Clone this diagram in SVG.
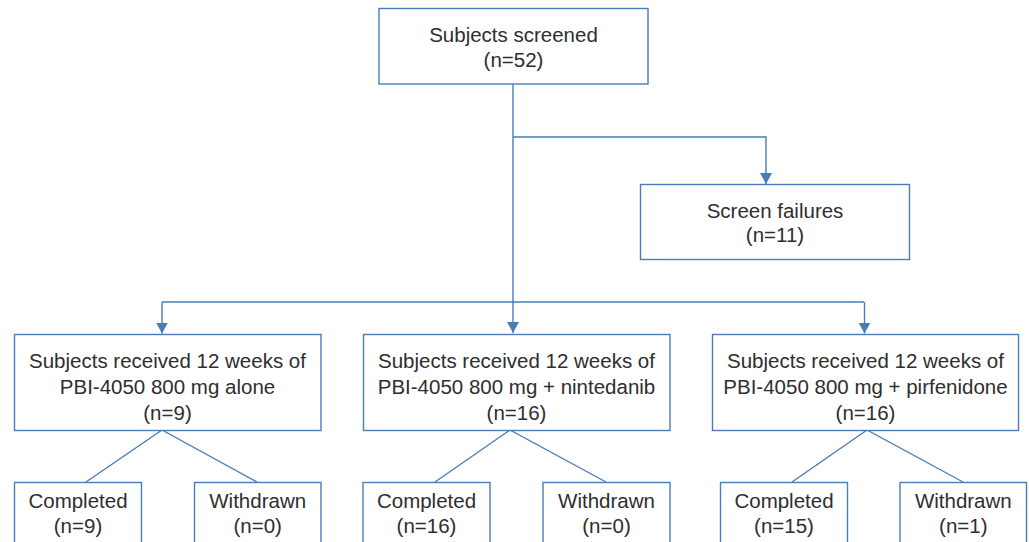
<svg xmlns="http://www.w3.org/2000/svg" width="1029" height="542" viewBox="0 0 1029 542">
<style>
.box{fill:#fff;stroke:#4a7cb8;stroke-width:1.4}
.ln{fill:none;stroke:#4a7cb8;stroke-width:1.4}
text{font-family:"Liberation Sans",Arial,sans-serif;font-size:20.5px;fill:#2e2e2e;text-anchor:middle}
</style>
<defs>
<marker id="arr" markerWidth="11" markerHeight="12" refX="11" refY="6" orient="auto" markerUnits="userSpaceOnUse" viewBox="0 0 11 12">
<path d="M0,0 L11,6 L0,12 Z" fill="#4a7cb8"/>
</marker>
</defs>
<rect width="1029" height="542" fill="#fff"/>
<g id="connectors">
<path class="ln" d="M513,84 V333" marker-end="url(#arr)"/>
<path class="ln" d="M513,137 H766 V184" marker-end="url(#arr)"/>
<path class="ln" d="M162,302 H864"/>
<path class="ln" d="M162,302 V333.5" marker-end="url(#arr)"/>
<path class="ln" d="M864.5,302 V333.5" marker-end="url(#arr)"/>
<path class="ln" d="M86,482 L162,430 L257,482"/>
<path class="ln" d="M435,482 L510,430 L606,482"/>
<path class="ln" d="M792,482 L867,430 L963,482"/>
</g>
<g id="screened">
<rect class="box" x="379" y="8.5" width="269" height="75.5"/>
<text x="513.5" y="42">Subjects screened</text>
<text x="513.5" y="67">(n=52)</text>
</g>
<g id="failures">
<rect class="box" x="640.5" y="184.5" width="269" height="75"/>
<text x="775" y="218">Screen failures</text>
<text x="775" y="242">(n=11)</text>
</g>
<g id="armA">
<rect class="box" x="14.5" y="334.5" width="306.5" height="96"/>
<text x="167.5" y="368">Subjects received 12 weeks of</text>
<text x="167.5" y="394">PBI-4050 800 mg alone</text>
<text x="167.5" y="419.5">(n=9)</text>
</g>
<g id="armB">
<rect class="box" x="363.5" y="334.5" width="306.5" height="96"/>
<text x="516.5" y="368">Subjects received 12 weeks of</text>
<text x="516.5" y="394">PBI-4050 800 mg + nintedanib</text>
<text x="516.5" y="419.5">(n=16)</text>
</g>
<g id="armC">
<rect class="box" x="712.5" y="334.5" width="306" height="96"/>
<text x="865.5" y="368">Subjects received 12 weeks of</text>
<text x="865.5" y="394">PBI-4050 800 mg + pirfenidone</text>
<text x="865.5" y="419.5">(n=16)</text>
</g>
<g id="A_completed">
<rect class="box" x="14.5" y="482.5" width="127" height="70"/>
<text x="78" y="508">Completed</text>
<text x="78" y="533">(n=9)</text>
</g>
<g id="A_withdrawn">
<rect class="box" x="194.5" y="482.5" width="126.5" height="70"/>
<text x="257.7" y="508">Withdrawn</text>
<text x="257.7" y="533">(n=0)</text>
</g>
<g id="B_completed">
<rect class="box" x="363" y="482.5" width="127" height="70"/>
<text x="426.5" y="508">Completed</text>
<text x="426.5" y="533">(n=16)</text>
</g>
<g id="B_withdrawn">
<rect class="box" x="543" y="482.5" width="127" height="70"/>
<text x="606.5" y="508">Withdrawn</text>
<text x="606.5" y="533">(n=0)</text>
</g>
<g id="C_completed">
<rect class="box" x="720.5" y="482.5" width="127" height="70"/>
<text x="784" y="508">Completed</text>
<text x="784" y="533">(n=15)</text>
</g>
<g id="C_withdrawn">
<rect class="box" x="900" y="482.5" width="126.5" height="70"/>
<text x="963.3" y="508">Withdrawn</text>
<text x="963.3" y="533">(n=1)</text>
</g>
</svg>
